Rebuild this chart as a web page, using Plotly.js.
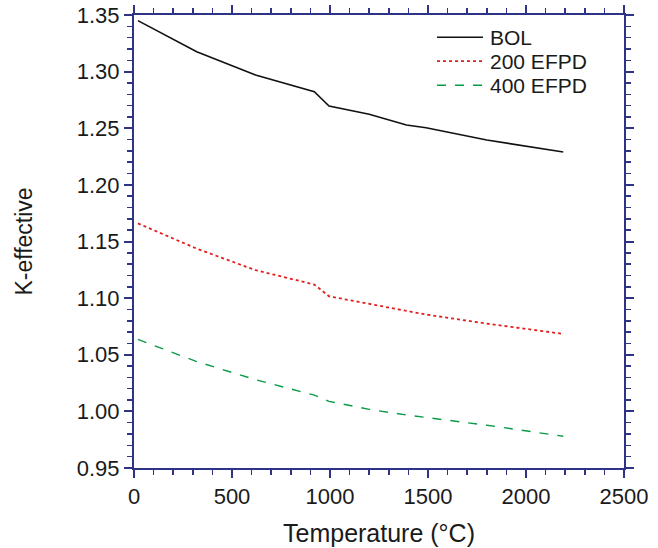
<!DOCTYPE html>
<html>
<head>
<meta charset="utf-8">
<script src="https://cdn.plot.ly/plotly-3.0.1.min.js"></script>
<style>
html,body{margin:0;padding:0;background:#fff;}
#chart{width:658px;height:548px;}
</style>
</head>
<body>
<div id="chart"></div>
<script>
// Data
const temperature = [20, 320, 620, 920, 995, 1200, 1390, 1490, 1800, 2190];
const kBOL     = [1.3450, 1.3176, 1.2970, 1.2822, 1.2696, 1.2623, 1.2528, 1.2504, 1.2396, 1.2290];
const k200EFPD = [1.1660, 1.1437, 1.1247, 1.1120, 1.1016, 1.0948, 1.0888, 1.0855, 1.0775, 1.0684];
const k400EFPD = [1.0635, 1.0440, 1.0280, 1.0143, 1.0088, 1.0018, 0.9968, 0.9945, 0.9878, 0.9780];
const seriesNames = ['BOL', '200 EFPD', '400 EFPD'];
const xTicks = [0, 500, 1000, 1500, 2000, 2500];
const yTicks = [0.95, 1.00, 1.05, 1.10, 1.15, 1.20, 1.25, 1.30, 1.35];

const axisColor = '#2e3386';
const textColor = '#1a1a1a';
const fontFam = 'Liberation Sans, Arial, sans-serif';

const lineStyles = [
  {color: '#111111', width: 1.6, dash: 'solid'},
  {color: '#e0201f', width: 1.8, dash: 'dot'},
  {color: '#0a9a48', width: 1.4, dash: 'dash'}
];
const seriesValues = [kBOL, k200EFPD, k400EFPD];

const traces = seriesValues.map((vals, i) => ({
  x: temperature, y: vals, name: seriesNames[i], mode: 'lines',
  line: lineStyles[i], showlegend: false
}));

// Compact legend (sample lines + labels) drawn in paper coordinates
const legendRowsY = [0.951, 0.898, 0.845];
const legendShapes = seriesNames.map((n, i) => ({
  type: 'line', xref: 'paper', yref: 'paper',
  x0: 0.6184, x1: 0.7122, y0: legendRowsY[i], y1: legendRowsY[i],
  line: lineStyles[i]
}));
const legendLabels = seriesNames.map((n, i) => ({
  text: n, xref: 'paper', yref: 'paper', x: 0.7245, y: legendRowsY[i],
  xanchor: 'left', yanchor: 'middle', showarrow: false, borderpad: 0,
  font: {family: fontFam, size: 21, color: textColor}
}));

const axisCommon = {
  showgrid: false, zeroline: false,
  showline: true, linecolor: axisColor, linewidth: 2,
  mirror: 'ticks', ticks: 'outside', ticklen: 8, tickwidth: 2, tickcolor: axisColor,
  tickfont: {family: fontFam, size: 22, color: textColor},
  minor: {ticks: 'outside', ticklen: 5, tickwidth: 1.5, tickcolor: axisColor, showgrid: false}
};

const layout = {
  width: 658, height: 548,
  margin: {l: 134, r: 34, t: 15, b: 80},
  paper_bgcolor: '#ffffff', plot_bgcolor: '#ffffff',
  font: {family: fontFam, color: textColor},
  showlegend: false,
  shapes: legendShapes,
  annotations: legendLabels,
  xaxis: Object.assign({}, axisCommon, {
    range: [0, 2500], tickvals: xTicks, ticktext: xTicks.map(String),
    minor: Object.assign({}, axisCommon.minor, {dtick: 100, tick0: 0}),
    title: {text: '\u00a0\u00a0\u00a0Temperature (°C)', font: {family: fontFam, size: 25, color: textColor}, standoff: 16}
  }),
  yaxis: Object.assign({}, axisCommon, {
    range: [0.95, 1.35], tickvals: yTicks, ticktext: yTicks.map(v => v.toFixed(2)),
    minor: Object.assign({}, axisCommon.minor, {dtick: 0.01, tick0: 0.95}),
    title: {text: 'K-effective', font: {family: fontFam, size: 23, color: textColor}, standoff: 38}
  })
};

Plotly.newPlot('chart', traces, layout, {displayModeBar: false, staticPlot: true});
</script>
</body>
</html>
